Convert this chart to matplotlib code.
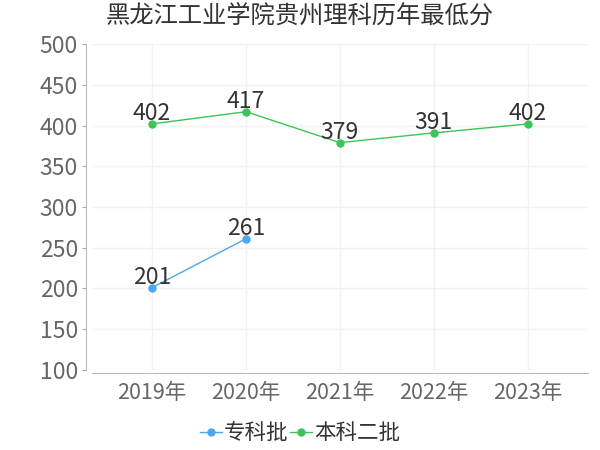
import matplotlib.pyplot as plt

plt.rcParams['font.family'] = ['Noto Sans CJK SC', 'DejaVu Sans']

years = ["2019年", "2020年", "2021年", "2022年", "2023年"]
zhuanke = [201, 261]
benke2 = [402, 417, 379, 391, 402]
yticks = [100, 150, 200, 250, 300, 350, 400, 450, 500]

blue = "#4aa8f0"
green = "#3cc45a"

fig = plt.figure(figsize=(6, 4.5), dpi=100)
ax = fig.add_axes([0.153, 0.178, 0.827, 0.724])

x_all = list(range(len(years)))
ax.plot(x_all[:len(zhuanke)], zhuanke, "-o", color=blue, lw=1, ms=5, label="专科批", zorder=3)
ax.plot(x_all, benke2, "-o", color=green, lw=1, ms=5, label="本科二批", zorder=3)

for xs, ys in ((x_all[:len(zhuanke)], zhuanke), (x_all, benke2)):
    for x, y in zip(xs, ys):
        ax.annotate(str(y), (x, y), xytext=(0, -1), textcoords="offset points",
                    ha="center", va="bottom", fontsize=16.5, color="#333333", zorder=4)

ax.set_xlim(-0.64, 4.64)
ax.set_ylim(100, 500)
ax.set_xticks(x_all)
ax.set_xticklabels(years)
ax.set_yticks(yticks)
ax.tick_params(axis="x", length=0, pad=7, labelsize=15.5, labelcolor="#666666")
ax.tick_params(axis="y", length=3, color="#aaaaaa", pad=3, labelsize=16.5, labelcolor="#666666")
ax.grid(True, color="#f2f2f2", lw=1)
ax.set_axisbelow(True)

for s in ("top", "right"):
    ax.spines[s].set_visible(False)
ax.spines["left"].set_color("#bbbbbb")
ax.spines["left"].set_position(("outward", 4))
ax.spines["bottom"].set_color("#bbbbbb")
ax.spines["bottom"].set_position(("outward", 2))

fig.suptitle("黑龙江工业学院贵州理科历年最低分", x=0.5, y=0.995, fontsize=17.5, color="#333333")

fig.legend(loc="lower center", bbox_to_anchor=(0.5, -0.03), ncol=2, frameon=False,
           fontsize=15.5, handlelength=1.0, handletextpad=0.1, columnspacing=0.1,
           labelcolor="#333333")

fig.savefig("out.png")
